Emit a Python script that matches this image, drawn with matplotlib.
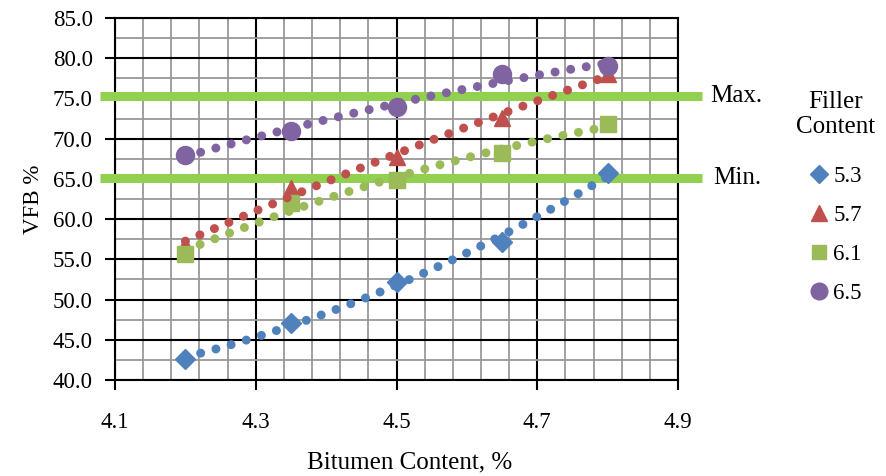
import numpy as np
import matplotlib
matplotlib.use("Agg")
from matplotlib import pyplot as plt
from matplotlib.ticker import FixedLocator, MultipleLocator, FormatStrFormatter
from matplotlib.lines import Line2D

plt.rcParams['font.family'] = ['Liberation Serif', 'DejaVu Serif']

bitumen = [4.2, 4.35, 4.5, 4.65, 4.8]
filler_labels = ['5.3', '5.7', '6.1', '6.5']
vfb_53 = [42.6, 47.1, 52.2, 57.1, 65.7]
vfb_57 = [56.8, 63.9, 67.7, 72.6, 78.1]
vfb_61 = [55.7, 62.0, 64.9, 68.2, 71.8]
vfb_65 = [68.0, 71.0, 73.9, 78.0, 79.0]
vfb_max = 75.3
vfb_min = 65.1

series = [vfb_53, vfb_57, vfb_61, vfb_65]
colors = ['#4F81BD', '#C0504D', '#9BBB59', '#8064A2']
markers = ['D', '^', 's', 'o']
msizes = [10, 12, 11, 13]

fs = 16.5
fs_big = 18
fig = plt.figure(figsize=(8.86, 4.76), dpi=100)
ax = fig.add_axes([115/886, 1-380/476, 563/886, 362/476])

ax.set_xlim(4.1, 4.9)
ax.set_ylim(40, 85)
ax.xaxis.set_major_locator(FixedLocator(np.round(np.arange(4.1, 4.95, 0.2), 2)))
ax.xaxis.set_minor_locator(FixedLocator(np.round(np.arange(4.1, 4.91, 0.04), 2)))
ax.yaxis.set_major_locator(MultipleLocator(5))
ax.yaxis.set_minor_locator(MultipleLocator(2.5))
ax.xaxis.set_major_formatter(FormatStrFormatter('%.1f'))
ax.yaxis.set_major_formatter(FormatStrFormatter('%.1f'))
ax.grid(which='minor', color='#999999', lw=1.3)
ax.grid(which='major', color='black', lw=1.5)
ax.set_axisbelow(True)
for s in ax.spines.values():
    s.set_linewidth(1.5)
ax.tick_params(which='major', length=7, width=1.5, labelsize=fs)
ax.tick_params(axis='x', which='major', pad=16)
ax.tick_params(axis='y', which='major', pad=9)
ax.tick_params(which='minor', length=0)

# limits
for lvl in [vfb_max, vfb_min]:
    ax.plot([-0.027, 1.043], [lvl, lvl], transform=ax.get_yaxis_transform(),
            clip_on=False, lw=6.5, color='#92D050', solid_capstyle='butt', zorder=4)
ax.text(1.057, vfb_max, 'Max.', transform=ax.get_yaxis_transform(), va='center', fontsize=fs_big)
ax.text(1.062, vfb_min, 'Min.', transform=ax.get_yaxis_transform(), va='center', fontsize=fs_big)

xs = np.linspace(4.2, 4.8, 200)
handles = []
for vals, c, m, ms in zip(series, colors, markers, msizes):
    ax.plot(bitumen, vals, ls='none', marker=m, ms=ms, color=c, zorder=5)
    coef = np.polyfit(bitumen, vals, 2)
    ax.plot(xs, np.polyval(coef, xs), color=c, lw=6.5, ls=(0, (0.001, 1.75)),
            dash_capstyle='round', zorder=6)
    handles.append(Line2D([], [], ls='none', marker=m, ms=ms - 1, color=c))

ax.set_xlabel('Bitumen Content, %', fontsize=fs_big, labelpad=13, x=0.524)
ax.set_ylabel('VFB %', fontsize=fs, labelpad=6)

leg = fig.legend(handles, filler_labels, title='Filler\nContent', loc='upper center',
                 bbox_to_anchor=(836/886, 1-70/476), frameon=False, fontsize=fs,
                 title_fontsize=fs_big, handlelength=0.8, handletextpad=0.2, labelspacing=0.78)
leg.get_title().set_multialignment('center')
leg._legend_box.sep = 20

plt.savefig('out.png', dpi=100)
